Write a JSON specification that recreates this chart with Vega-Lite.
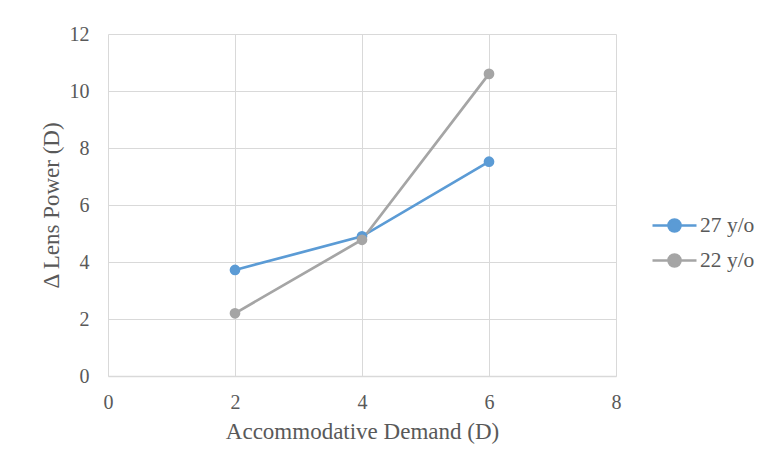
{
  "$schema": "https://vega.github.io/schema/vega-lite/v6.json",
  "width": 508,
  "height": 342,
  "autosize": {"type": "none"},
  "padding": {"left": 108, "top": 34, "right": 149, "bottom": 87},
  "background": "white",
  "config": {
    "view": {"stroke": null},
    "font": "Liberation Serif"
  },
  "data": {
    "values": [
      {"demand": 2, "power": 3.72, "group": "27 y/o"},
      {"demand": 4, "power": 4.9, "group": "27 y/o"},
      {"demand": 6, "power": 7.52, "group": "27 y/o"},
      {"demand": 2, "power": 2.2, "group": "22 y/o"},
      {"demand": 4, "power": 4.78, "group": "22 y/o"},
      {"demand": 6, "power": 10.6, "group": "22 y/o"}
    ]
  },
  "mark": {"type": "line", "strokeWidth": 2.7, "point": {"size": 115, "opacity": 1}},
  "encoding": {
    "x": {
      "field": "demand", "type": "quantitative",
      "scale": {"domain": [0, 8], "nice": false},
      "axis": {
        "values": [0, 2, 4, 6, 8],
        "title": "Accommodative Demand (D)",
        "titleFont": "Liberation Serif", "titleFontSize": 23, "titleFontWeight": "normal", "titleColor": "#595959",
        "titlePadding": 8,
        "labelFont": "Liberation Serif", "labelFontSize": 20, "labelColor": "#595959", "labelPadding": 16,
        "labelFlush": false,
        "ticks": false, "domainColor": "#D9D9D9", "domainWidth": 1.3,
        "gridColor": "#D9D9D9", "gridWidth": 1
      }
    },
    "y": {
      "field": "power", "type": "quantitative",
      "scale": {"domain": [0, 12], "nice": false},
      "axis": {
        "values": [0, 2, 4, 6, 8, 10, 12],
        "title": "Δ Lens Power (D)",
        "titleFont": "Liberation Serif", "titleFontSize": 23, "titleFontWeight": "normal", "titleColor": "#595959",
        "titlePadding": 6,
        "labelFont": "Liberation Serif", "labelFontSize": 20, "labelColor": "#595959", "labelPadding": 19,
        "labelFlush": false,
        "ticks": false, "domain": false,
        "gridColor": "#D9D9D9", "gridWidth": 1
      }
    },
    "color": {
      "field": "group", "type": "nominal",
      "sort": ["27 y/o", "22 y/o"],
      "scale": {"domain": ["27 y/o", "22 y/o"], "range": ["#5B9BD5", "#A5A5A5"]},
      "legend": {
        "title": null,
        "orient": "none",
        "legendX": 543,
        "legendY": 168,
        "symbolType": "M-1,0L-0.27,0M0.27,0L1,0M0.27,0A0.27,0.27 0 1,1 -0.27,0A0.27,0.27 0 1,1 0.27,0Z",
        "symbolSize": 1936,
        "symbolStrokeWidth": 2.7,
        "symbolOpacity": 1,
        "labelFont": "Liberation Serif", "labelFontSize": 21.5, "labelColor": "#595959",
        "labelOffset": 2,
        "rowPadding": -8
      }
    }
  }
}
